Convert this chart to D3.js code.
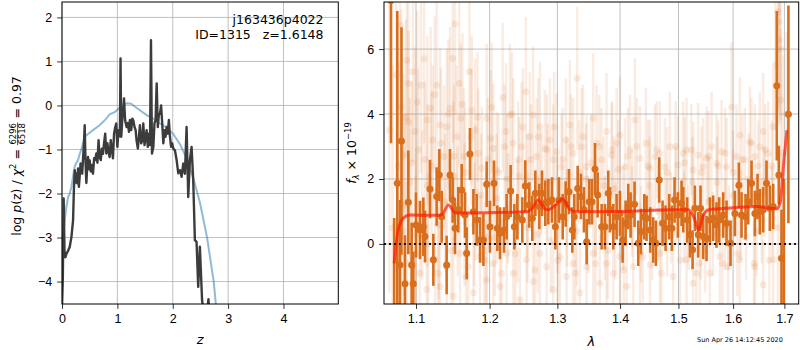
<!DOCTYPE html>
<html lang="en">
<head>
<meta charset="utf-8">
<title>p(z) and spectrum fit</title>
<script src="https://cdn.jsdelivr.net/npm/d3@7"></script>
<style>
  body { margin: 0; background: #fff; }
  svg { display: block; font-family: 'DejaVu Sans', sans-serif; }
  text { white-space: pre; }
  .tick text { font-size: 12.5px; fill: #000; }
  .tick line { stroke: #000; stroke-width: 0.8; }
  .grid line { stroke: #b0b0b0; stroke-width: 0.8; }
</style>
</head>
<body>
<script>
// ---- left panel: log p(z) ----
const pzZ = [0.000, 0.015, 0.030, 0.045, 0.06, 0.08, 0.11, 0.14, 0.17, 0.20, 0.215, 0.23, 0.245, 0.26, 0.275, 0.29,
  0.305, 0.32, 0.335, 0.35, 0.365, 0.38, 0.395, 0.41, 0.425, 0.44, 0.455, 0.47, 0.485, 0.50, 0.52, 0.54, 0.56, 0.58,
  0.60, 0.62, 0.64, 0.66, 0.68, 0.70, 0.72, 0.74, 0.76, 0.78, 0.80, 0.82, 0.84, 0.86, 0.88, 0.90, 0.92, 0.94, 0.96,
  0.98, 1.00, 1.02, 1.045, 1.057, 1.07, 1.09, 1.106, 1.12, 1.14, 1.166, 1.19, 1.21, 1.226, 1.25, 1.27, 1.29, 1.31,
  1.33, 1.347, 1.37, 1.39, 1.407, 1.43, 1.45, 1.468, 1.49, 1.51, 1.528, 1.55, 1.57, 1.589, 1.607, 1.625, 1.65, 1.67,
  1.69, 1.71, 1.73, 1.75, 1.77, 1.79, 1.81, 1.83, 1.85, 1.87, 1.89, 1.91, 1.93, 1.95, 1.97, 1.99, 2.01, 2.04, 2.07,
  2.10, 2.13, 2.16, 2.19, 2.22, 2.25, 2.28, 2.31, 2.34, 2.37, 2.40, 2.43, 2.46, 2.49, 2.53, 2.56, 2.62, 2.645, 2.66];
const pzLog = [-4.6, -3.9, -2.11, -3.3, -3.45, -3.37, -3.3, -3.21, -2.99, -2.61, -1.9, -1.47, -1.75, -1.55, -1.77, -1.43,
  -1.85, -1.6, -1.32, -1.5, -1.55, -1.2, -0.9, -0.45, -1.3, -1.76, -1.4, -1.17, -1.45, -1.25, -1.5, -1.35, -1.55, -1.2,
  -1.24, -1.09, -1.3, -0.79, -1.17, -1.24, -0.98, -1.1, -0.85, -0.64, -1.09, -0.86, -1.05, -1.17, -0.79, -1.0, -1.2, -0.64, -0.5,
  -0.41, -0.94, -0.56, -0.7, 1.07, -0.71, -0.3, -0.11, 0.16, -0.33, -0.49, -0.4, -0.6, -0.33, -0.56, -0.30, -0.35, -0.49,
  -0.56, -0.8, -0.98, -0.71, -0.45, -0.86, -0.8, -0.41, -0.9, -0.75, -0.56, -0.94, -0.64, -0.9, 1.48, -1.09, -0.94, -0.4,
  -0.33, 0.50, -0.49, -0.2, -0.18, 0.0, -0.41, -0.86, -0.56, -0.71, -0.49, -0.64, -0.33, -0.71, -0.94, -0.86, -0.98, -1.02, -1.24,
  -1.54, -1.47, -1.62, -1.32, -1.55, -0.49, -2.08, -1.24, -0.94, -1.7, -3.06, -3.1, -4.12, -3.21, -4.43, -4.7, -4.7, -4.4, -4.7];

const priorZ = [0.0, 0.02, 0.05, 0.08, 0.11, 0.14, 0.17, 0.20, 0.23, 0.26, 0.29, 0.32, 0.35, 0.38, 0.41, 0.47, 0.56, 0.68,
  0.80, 0.86, 0.95, 1.045, 1.166, 1.25, 1.29, 1.407, 1.528, 1.65, 1.77, 1.89, 2.01, 2.13, 2.25, 2.37, 2.49, 2.62, 2.74, 2.80];
const priorLog = [-3.6, -3.0, -2.6, -2.3, -2.08, -2.0, -1.85, -1.6, -1.39, -1.3, -1.24, -1.1, -1.0, -0.85, -0.71, -0.65, -0.56, -0.45,
  -0.3, -0.2, -0.15, -0.05, 0.05, 0.04, 0.0, -0.11, -0.22, -0.30, -0.41, -0.5, -0.65, -0.88, -1.2, -1.65, -2.2, -3.0, -4.0, -4.8];

const zTicks = [0, 1, 2, 3, 4];
const pTicks = [-4, -3, -2, -1, 0, 1, 2];

// ---- right panel: spectrum ----
// binned points
const binLam = [1.068, 1.072, 1.0760, 1.0794, 1.0813, 1.0858, 1.0901, 1.0944, 1.0965, 1.1000, 1.1052, 1.1096, 1.1118, 1.1184,
  1.1228, 1.1272, 1.1308, 1.1339, 1.1406, 1.1451, 1.1487, 1.1519, 1.1564, 1.1610, 1.1656, 1.1679, 1.1725, 1.1772, 1.1818,
  1.1865, 1.1912, 1.1959, 1.2005, 1.2062, 1.2110, 1.2148, 1.2206, 1.2244, 1.2302, 1.2356, 1.2400, 1.2473, 1.2517, 1.2576,
  1.2621, 1.2666, 1.2726, 1.2766, 1.2816, 1.2862, 1.2918, 1.2969, 1.3025, 1.3082, 1.3128, 1.3180, 1.3232, 1.3263, 1.3316,
  1.3368, 1.3415, 1.3458, 1.3500, 1.3543, 1.3591, 1.3634, 1.3698, 1.3752, 1.3806, 1.3833, 1.3888, 1.3943, 1.3998, 1.4042,
  1.4092, 1.4136, 1.4175, 1.4242, 1.4304, 1.4349, 1.4406, 1.4445, 1.4508, 1.4559, 1.4605, 1.4663, 1.4721, 1.4773, 1.4837,
  1.4884, 1.4931, 1.4990, 1.5055, 1.5085, 1.5156, 1.5204, 1.5252, 1.5294, 1.5354, 1.5396, 1.5445, 1.5506, 1.5567, 1.5628,
  1.5690, 1.5740, 1.5814, 1.5877, 1.5952, 1.6034, 1.6110, 1.6161, 1.6237, 1.6288, 1.6353, 1.6417, 1.6469, 1.6514, 1.6580,
  1.6645, 1.6711, 1.6777, 1.6848, 1.6889, 1.6942, 1.699, 1.7081];
const binFlux = [7.5, -2.5, 1.87, -0.65, 3.17, -1.23, 1.28, -0.65, -1.23, 0.58, 0.43, 0.53, 0.23, 1.69,
  -0.49, 1.46, 2.12, 0.84, -0.65, 2.12, 1.35, 0.48, 1.05, 1.66, 0.89, -0.29, 2.77, 0.99, 0.74,
  0.12, 0.12, 1.84, 0.53, 1.87, 0.48, 0.33, 0.43, 0.84, 1.63, 0.53, 0.84, 0.74, 1.78, 1.2,
  0.79, 1.56, 1.15, 1.56, 1.25, 1.30, 1.35, 0.53, 1.35, 0.84, 1.23, 1.61, 0.43, 0.84, 1.71,
  1.46, 1.05, 0.07, 1.30, 1.30, 2.31, 1.51, 0.53, 0.53, 1.56, 1.05, 0.53, 0.84, 0.94, 0.12,
  0.64, 1.15, 0.89, 1.22, 0.02, 0.38, 0.84, 0.79, 0.43, 0.12, 0.02, 1.97, 0.64, 0.48, 0.84,
  0.48, 1.35, 0.89, 1.25, 1.05, 0.74, 0.28, -0.18, 1.10, 0.28, 1.10, 0.23, 0.17, 0.74, 0.79,
  0.58, 0.74, 0.89, 0.64, 0.02, 0.94, 1.81, 0.89, 0.84, 1.30, 1.87, 0.94, 1.46, 0.99, 1.05,
  1.87, 1.10, 1.15, 4.87, 2.12, -0.44, -3.0, 3.99];
const binErr = [4.4, 3.3, 5.3, 2.0, 3.5, 1.5, 1.6, 1.3, 1.0, 1.0, 0.9, 0.9, 0.8, 0.9,
  0.8, 0.9, 0.8, 0.8, 0.9, 0.8, 0.7, 0.8, 0.7, 0.8, 0.7, 0.8, 0.8, 0.7, 0.8,
  0.7, 0.8, 0.7, 0.8, 0.7, 0.7, 0.8, 0.7, 0.7, 0.8, 0.7, 0.7, 0.7, 0.8, 0.7,
  0.7, 0.7, 0.7, 0.7, 0.7, 0.7, 0.7, 0.7, 0.7, 0.7, 0.7, 0.7, 0.7, 0.7, 0.7,
  0.7, 0.7, 0.7, 0.7, 0.7, 0.8, 0.7, 0.7, 0.7, 0.7, 0.7, 0.7, 0.7, 0.7, 0.7,
  0.7, 0.7, 0.7, 0.7, 0.7, 0.7, 0.7, 0.7, 0.7, 0.7, 0.7, 0.7, 0.7, 0.7, 0.7,
  0.7, 0.7, 0.7, 0.7, 0.7, 0.7, 0.7, 0.6, 0.7, 0.7, 0.7, 0.7, 0.7, 0.7, 0.7,
  0.7, 0.7, 0.7, 0.7, 0.7, 0.7, 0.7, 0.7, 0.7, 0.7, 0.7, 0.7, 0.7, 0.7, 0.7,
  0.7, 0.7, 0.7, 2.3, 0.9, 1.5, 5.0, 3.35];

// individual (unbinned) points
const rawLam = [1.0794, 1.081, 1.0837, 1.0881, 1.0902, 1.0905, 1.0945, 1.0987, 1.1017, 1.1065, 1.1118, 1.1148, 1.1193, 1.1219,
  1.1273, 1.1317, 1.1370, 1.1407, 1.1451, 1.1488, 1.1519, 1.1542, 1.1578, 1.1597, 1.1642, 1.1716, 1.1749, 1.1795, 1.1841,
  1.1889, 1.1959, 1.2015, 1.2052, 1.2100, 1.2187, 1.2234, 1.2292, 1.2340, 1.2413, 1.2463, 1.2526, 1.2585, 1.2634, 1.2685,
  1.2735, 1.2810, 1.2886, 1.2936, 1.2988, 1.3065, 1.3131, 1.3194, 1.3245, 1.3308, 1.3377, 1.3456, 1.3562, 1.3616, 1.3697,
  1.3778, 1.3860, 1.3943, 1.3998, 1.4081, 1.4164, 1.4248, 1.4332, 1.4434, 1.4502, 1.4588, 1.4674, 1.4761, 1.4848, 1.4995,
  1.5084, 1.5144, 1.5263, 1.5353, 1.5444, 1.5506, 1.5598, 1.5690, 1.5783, 1.5877, 1.5971, 1.6065, 1.6128, 1.6224, 1.6320,
  1.6417, 1.6514, 1.6579, 1.6677, 1.6776, 1.6876, 1.6896, 1.690, 1.6923, 1.7044,
  1.0881, 1.0945, 1.1052, 1.1140, 1.1251, 1.1317, 1.1407, 1.1496, 1.1588, 1.1670, 1.1772, 1.1865, 1.1959, 1.2052, 1.2148,
  1.2244, 1.2340, 1.2438, 1.2536, 1.2634, 1.2735, 1.2836, 1.2936, 1.3039, 1.3142, 1.3245, 1.3350, 1.3456, 1.3562, 1.3669,
  1.3778, 1.3888, 1.3998, 1.4109, 1.4220, 1.4332, 1.4502, 1.4674, 1.4906, 1.5144, 1.5263, 1.5384, 1.5567, 1.5752, 1.5907,
  1.6128, 1.6417, 1.6579, 1.6776,
  1.085, 1.10, 1.115, 1.13, 1.15, 1.165, 1.18, 1.195, 1.21, 1.225, 1.24, 1.255, 1.27, 1.285, 1.30, 1.315, 1.33, 1.345,
  1.36, 1.375, 1.39, 1.405, 1.42, 1.435, 1.45, 1.465, 1.48, 1.495, 1.51, 1.525, 1.54, 1.555, 1.57, 1.585, 1.60, 1.615,
  1.63, 1.645, 1.66, 1.675,
  1.066, 1.070, 1.0745, 1.0775, 1.0830, 1.0870, 1.0920, 1.0960, 1.0995, 1.1030, 1.1080, 1.1105, 1.1160, 1.1205, 1.1245,
  1.1290, 1.1330, 1.1385, 1.1430, 1.1470, 1.1505, 1.1555, 1.1620, 1.1660, 1.1700, 1.1740, 1.1785, 1.1830, 1.1880, 1.1925,
  1.1975, 1.2030, 1.2075, 1.2125, 1.2170, 1.2215, 1.2265, 1.2320, 1.2370, 1.2425, 1.2480, 1.2550, 1.2600, 1.2660, 1.2710,
  1.2760, 1.2840, 1.2900, 1.2950, 1.3010, 1.3080, 1.3150, 1.3210, 1.3280, 1.3340, 1.3400, 1.3480, 1.3530, 1.3600, 1.3660,
  1.3730, 1.3800, 1.3870, 1.3920, 1.3970, 1.4060, 1.4130, 1.4200, 1.4280, 1.4380, 1.4470, 1.4540, 1.4620, 1.4700, 1.4800,
  1.4870, 1.4950, 1.5030, 1.5110, 1.5180, 1.5230, 1.5320, 1.5410, 1.5480, 1.5540, 1.5620, 1.5720, 1.5800, 1.5850, 1.5920,
  1.6000, 1.6080, 1.6170, 1.6250, 1.6350, 1.6400, 1.6480, 1.6550, 1.6620, 1.6700, 1.6750, 1.6820, 1.6870, 1.6930, 1.6960];
const rawFlux = [6.74, 4.22, 2.74, 5.66, 4.94, 3.76, 2.5, 3.46, 4.37, 4.89, 2.6, 3.82, 4.18, 3.2,
  4.89, 3.66, 2.69, 3.61, 4.18, 5.71, 6.77, 3.3, 4.94, 3.87, 2.69, 5.3, 4.12, 3.5, 2.79,
  2.33, 3.87, 3.25, 2.94, 2.28, 4.51, 3.46, 3.97, 3.1, 2.59, 2.99, 4.69, 3.3, 3.97, 2.69,
  3.61, 2.94, 3.2, 2.59, 2.84, 2.38, 3.2, 3.66, 2.79, 5.1, 2.99, 2.38, 3.87, 3.1, 2.59,
  3.46, 2.74, 3.1, 3.35, 2.38, 2.89, 3.82, 2.64, 3.1, 2.33, 2.69, 2.79, 2.38, 2.99, 2.43,
  2.79, 2.89, 2.28, 2.74, 2.38, 2.64, 2.99, 2.48, 2.84, 2.38, 4.22, 2.69, 3.35, 2.59, 3.15,
  2.69, 2.99, 3.46, 2.79, 3.61, 7.15, 6.84, 6.28, 4.43, 4.02,
  -0.6, -1.21, -0.9, -1.4, -0.49, -1.31, -0.7, -1.6, -0.29, -1.0, -1.5, -0.39, -1.11, -0.6, -1.31,
  -0.29, -0.9, -1.72, -0.49, -1.16, -0.29, -0.7, -1.4, -0.39, -1.0, -0.6, -1.5, -0.7, -0.29, -1.21,
  -0.6, -0.9, -0.39, -1.31, -0.7, -0.29, -0.65, -0.29, -1.0, -0.49, -1.21, -0.6, -0.9, -0.39, -0.7,
  -0.49, -0.7, -1.26, -0.49,
  1.2, 0.3, 1.8, 0.6, 2.1, 0.9, 1.6, 0.2, 1.4, 2.0, 0.7, 1.5, 0.3, 1.9, 0.9, 1.6, 0.4, 2.0,
  1.2, 0.5, 1.7, 0.8, 1.4, 0.3, 1.8, 1.0, 0.5, 1.5, 0.8, 1.9, 0.3, 1.3, 1.9, 0.6, 1.5, 0.9,
  2.0, 0.4, 1.6, 1.0,
  3.5, 0.5, 5.2, 2.4, 0.4, 3.9, 1.9, 5.3, -0.3, 2.9, 1.2, 5.7, 0.0, 2.4, 4.6,
  -0.9, 3.1, 1.3, 4.0, -0.2, 2.7, 1.0, 4.3, 2.2, -0.7, 3.3, 0.6, 3.9, 1.5, -0.5,
  2.6, 4.2, 0.2, 2.2, -0.9, 3.0, 1.1, 4.0, -0.3, 2.1, 3.6, 0.5, 2.6, -0.8, 3.3,
  1.9, 2.9, 0.1, 3.6, -0.5, 2.6, 0.8, 3.0, -0.9, 2.2, 3.3, 0.6, 2.5, -0.6, 3.0,
  1.8, -0.2, 2.9, 0.4, 2.3, -0.8, 2.7, 1.0, 3.0, -0.4, 2.4, 0.3, 2.9, -0.9, 2.2,
  0.8, 3.0, -0.5, 2.5, 0.5, 2.9, -0.9, 2.2, -0.2, 2.7, 0.3, 2.4, -0.6, 2.8, 0.5,
  2.2, -0.3, 2.6, 0.2, 3.1, -0.6, 2.4, 0.7, 2.9, -0.5, 2.4, 5.5, 0.5, 6.0, 2.8];
const rawErr = [3.5, 3.0, 2.5, 3.0, 3.0, 2.8, 2.5, 2.6, 2.8, 2.7, 2.4, 2.6, 2.5, 2.3,
  2.6, 2.4, 2.2, 2.4, 2.5, 2.6, 2.8, 2.2, 2.5, 2.3, 2.1, 2.5, 2.3, 2.2, 2.0,
  1.9, 2.3, 2.1, 2.0, 1.8, 2.3, 2.1, 2.2, 2.0, 1.8, 2.0, 2.3, 2.0, 2.1, 1.8,
  2.0, 1.8, 1.9, 1.7, 1.8, 1.6, 1.9, 2.0, 1.7, 2.2, 1.8, 1.6, 2.0, 1.8, 1.6,
  1.8, 1.6, 1.7, 1.8, 1.5, 1.7, 1.9, 1.6, 1.7, 1.5, 1.6, 1.6, 1.5, 1.7, 1.5,
  1.6, 1.6, 1.5, 1.6, 1.5, 1.6, 1.7, 1.5, 1.6, 1.5, 2.0, 1.6, 1.8, 1.6, 1.7,
  1.6, 1.7, 1.8, 1.6, 1.8, 3.0, 2.8, 2.6, 2.2, 2.5,
  2.5, 2.2, 2.2, 2.0, 2.2, 2.0, 2.0, 1.8, 2.0, 1.8, 1.8, 1.9, 1.8, 1.8, 1.7,
  1.8, 1.7, 1.6, 1.7, 1.6, 1.7, 1.6, 1.5, 1.7, 1.6, 1.6, 1.5, 1.6, 1.6, 1.5,
  1.6, 1.5, 1.6, 1.5, 1.5, 1.6, 1.5, 1.5, 1.4, 1.5, 1.4, 1.5, 1.4, 1.5, 1.4,
  1.5, 1.4, 1.4, 1.5,
  2.8, 2.5, 2.5, 2.3, 2.3, 2.2, 2.1, 2.0, 2.0, 2.0, 1.9, 1.9, 1.8, 1.8, 1.8, 1.7, 1.7, 1.7,
  1.6, 1.6, 1.6, 1.6, 1.5, 1.5, 1.5, 1.5, 1.5, 1.5, 1.4, 1.4, 1.4, 1.4, 1.4, 1.4, 1.4, 1.4,
  1.4, 1.4, 1.4, 1.4,
  5.0, 5.0, 3.5, 3.2, 2.8, 3.0, 2.6, 2.8, 2.4, 2.5, 2.3, 2.6, 2.2, 2.3, 2.4,
  2.1, 2.3, 2.1, 2.3, 2.0, 2.2, 2.0, 2.2, 2.0, 1.9, 2.1, 1.9, 2.0, 1.9, 1.8,
  1.9, 2.0, 1.8, 1.8, 1.7, 1.9, 1.7, 1.9, 1.7, 1.8, 1.8, 1.7, 1.7, 1.6, 1.8,
  1.6, 1.7, 1.6, 1.7, 1.6, 1.6, 1.5, 1.6, 1.5, 1.6, 1.6, 1.5, 1.5, 1.5, 1.6,
  1.5, 1.5, 1.5, 1.5, 1.5, 1.4, 1.5, 1.4, 1.5, 1.4, 1.4, 1.4, 1.5, 1.4, 1.4,
  1.4, 1.4, 1.4, 1.4, 1.3, 1.4, 1.3, 1.4, 1.3, 1.4, 1.3, 1.4, 1.3, 1.4, 1.3,
  1.3, 1.3, 1.4, 1.3, 1.4, 1.3, 1.4, 1.3, 1.4, 1.3, 1.4, 2.0, 2.5, 2.2, 3.0];

// best-fit template
const modelLam = [1.072, 1.077, 1.084, 1.092, 1.13, 1.135, 1.143, 1.152, 1.16, 1.254, 1.262, 1.271, 1.28, 1.286, 1.297,
  1.308, 1.318, 1.328, 1.40, 1.492, 1.518, 1.528, 1.536, 1.545, 1.555, 1.576, 1.646, 1.685, 1.692, 1.698, 1.705];
const modelFlux = [-0.6, 0.43, 0.8, 0.89, 0.88, 0.92, 1.2, 0.96, 0.95, 0.99, 1.1, 1.35, 1.1, 1.05, 1.2,
  1.38, 1.1, 0.99, 1.0, 1.05, 1.05, 0.8, 0.43, 0.9, 1.05, 1.08, 1.15, 1.08, 1.3, 2.4, 3.5];

const lamTicks = [1.1, 1.2, 1.3, 1.4, 1.5, 1.6, 1.7];
const fluxTicks = [0, 2, 4, 6];

const W = 800, H = 350;
const svg = d3.select("body").append("svg").attr("width", W).attr("height", H);

const orange = "#d96e1c";

function grid(box, xs, ys, xticks, yticks) {
  const g = svg.append("g").attr("class", "grid");
  g.selectAll("line.gx").data(xticks).join("line")
    .attr("class", "gx")
    .attr("x1", d => xs(d)).attr("x2", d => xs(d))
    .attr("y1", box.y0).attr("y2", box.y1);
  g.selectAll("line.gy").data(yticks).join("line")
    .attr("class", "gy")
    .attr("x1", box.x0).attr("x2", box.x1)
    .attr("y1", d => ys(d)).attr("y2", d => ys(d));
}

function drawAxes(box, xs, ys, xticks, yticks, xfmt, yfmt) {
  const ax = svg.append("g").attr("transform", `translate(0,${box.y1})`)
    .call(d3.axisBottom(xs).tickValues(xticks).tickFormat(xfmt).tickSize(4.9).tickPadding(4.9).tickSizeOuter(0));
  ax.select(".domain").remove();
  const ay = svg.append("g").attr("transform", `translate(${box.x0},0)`)
    .call(d3.axisLeft(ys).tickValues(yticks).tickFormat(yfmt).tickSize(4.9).tickPadding(4.9).tickSizeOuter(0));
  ay.select(".domain").remove();
  svg.selectAll(".tick text").attr("font-family", null);
  svg.append("rect").attr("x", box.x0).attr("y", box.y0)
    .attr("width", box.x1 - box.x0).attr("height", box.y1 - box.y0)
    .attr("fill", "none").attr("stroke", "#000").attr("stroke-width", 1);
}

function clip(id, box) {
  svg.append("clipPath").attr("id", id).append("rect")
    .attr("x", box.x0).attr("y", box.y0).attr("width", box.x1 - box.x0).attr("height", box.y1 - box.y0);
  return svg.append("g").attr("clip-path", `url(#${id})`);
}

const fmtInt = d3.format("d");
const minusFmt = d => (d < 0 ? "\u2212" : "") + Math.abs(d);

// ---------- left panel ----------
const L = { x0: 62, x1: 338.3, y0: 2, y1: 304 };
const zx = d3.scaleLinear().domain([0, 4.99]).range([L.x0, L.x1]);
const zy = d3.scaleLinear().domain([-4.51, 2.35]).range([L.y1, L.y0]);

grid(L, zx, zy, zTicks, pTicks);
const gl = clip("clipL", L);
const line = d3.line().x(d => zx(d[0])).y(d => zy(d[1]));
gl.append("path").datum(d3.zip(priorZ, priorLog)).attr("d", line)
  .attr("fill", "none").attr("stroke", "#1f77b4").attr("stroke-opacity", 0.5).attr("stroke-width", 2);
gl.append("path").datum(d3.zip(pzZ, pzLog)).attr("d", line)
  .attr("fill", "none").attr("stroke", "#3c3c3c").attr("stroke-width", 2.4).attr("stroke-linejoin", "round");
drawAxes(L, zx, zy, zTicks, pTicks, fmtInt, minusFmt);

svg.append("text").attr("x", 323.5).attr("y", 24).attr("text-anchor", "end")
  .attr("font-size", 12.5).text("j163436p4022");
svg.append("text").attr("x", 323.5).attr("y", 38.5).attr("text-anchor", "end")
  .attr("font-size", 12.5).text("ID=1315   z=1.6148");

svg.append("text").attr("x", (L.x0 + L.x1) / 2).attr("y", 344)
  .attr("text-anchor", "middle").attr("font-size", 13).attr("font-style", "italic").text("z");

// y label with fraction
{
  const g0 = svg.append("g").attr("transform", "translate(21,156) rotate(-90)");
  const g = g0.append("g");
  const t1 = g.append("text").attr("font-size", 12.5);
  t1.append("tspan").text("log ");
  t1.append("tspan").attr("font-style", "italic").text("p");
  t1.append("tspan").text("(z) / ");
  t1.append("tspan").attr("font-style", "italic").text("\u03c7");
  t1.append("tspan").attr("font-size", 8.5).attr("dy", -5).text("2");
  t1.append("tspan").attr("dy", 5).text(" = ");
  const l1 = t1.node().getComputedTextLength();
  const num = g.append("text").attr("font-size", 8.5).attr("text-anchor", "middle").attr("y", -4.8).text("6296");
  const den = g.append("text").attr("font-size", 8.5).attr("text-anchor", "middle").attr("y", 4.0).text("6518");
  const fw = Math.max(num.node().getComputedTextLength(), den.node().getComputedTextLength()) + 1;
  num.attr("x", l1 + fw / 2);
  den.attr("x", l1 + fw / 2);
  g.append("line").attr("x1", l1).attr("x2", l1 + fw).attr("y1", -3.4).attr("y2", -3.4)
    .attr("stroke", "#000").attr("stroke-width", 0.7);
  const t3 = g.append("text").attr("font-size", 12.5).attr("x", l1 + fw).text(" = 0.97");
  const total = l1 + fw + t3.node().getComputedTextLength();
  g.attr("transform", `translate(${-total / 2},0)`);
}

// ---------- right panel ----------
const R = { x0: 384, x1: 798.7, y0: 2, y1: 304 };
const lx = d3.scaleLog().domain([1.0592, 1.729]).range([R.x0, R.x1]);
const fy = d3.scaleLinear().domain([-1.85, 7.45]).range([R.y1, R.y0]);

grid(R, lx, fy, lamTicks, fluxTicks);
const gr = clip("clipR", R);

const raw = d3.zip(rawLam, rawFlux, rawErr);
const rawG = gr.append("g");
rawG.selectAll("line").data(raw).join("line")
  .attr("x1", d => lx(d[0])).attr("x2", d => lx(d[0]))
  .attr("y1", d => fy(d[1] - d[2])).attr("y2", d => fy(d[1] + d[2]))
  .attr("stroke", orange).attr("stroke-opacity", 0.13).attr("stroke-width", 2.5);
rawG.selectAll("circle").data(raw).join("circle")
  .attr("cx", d => lx(d[0])).attr("cy", d => fy(d[1])).attr("r", 3.5)
  .attr("fill", orange).attr("fill-opacity", 0.13);

const bins = d3.zip(binLam, binFlux, binErr);
gr.append("g").selectAll("line").data(bins).join("line")
  .attr("x1", d => lx(d[0])).attr("x2", d => lx(d[0]))
  .attr("y1", d => fy(d[1] - d[2])).attr("y2", d => fy(d[1] + d[2]))
  .attr("stroke", orange).attr("stroke-width", 2.6);
gr.append("g").selectAll("circle").data(bins).join("circle")
  .attr("cx", d => lx(d[0])).attr("cy", d => fy(d[1])).attr("r", 3.5)
  .attr("fill", orange);

const mline = d3.line().curve(d3.curveMonotoneX).x(d => lx(d[0])).y(d => fy(d[1]));
gr.append("path").datum(d3.zip(modelLam, modelFlux)).attr("d", mline)
  .attr("fill", "none").attr("stroke", "#ff1a00").attr("stroke-opacity", 0.7).attr("stroke-width", 3);

gr.append("path").datum([[lx.domain()[0], 0], [lx.domain()[1], 0]])
  .attr("d", d3.line().x(d => lx(d[0])).y(d => fy(d[1])))
  .attr("stroke", "#111").attr("stroke-width", 2).attr("stroke-dasharray", "2,3");

drawAxes(R, lx, fy, lamTicks, fluxTicks, d3.format(".1f"), fmtInt);

svg.append("text").attr("x", (R.x0 + R.x1) / 2).attr("y", 346)
  .attr("text-anchor", "middle").attr("font-size", 13).attr("font-style", "italic").text("\u03bb");

{
  const t = svg.append("text").attr("transform", "translate(356,153) rotate(-90)")
    .attr("text-anchor", "middle").attr("font-size", 12.5);
  t.append("tspan").attr("font-style", "italic").text("f");
  t.append("tspan").attr("font-style", "italic").attr("font-size", 8.5).attr("dy", 2.5).text("\u03bb");
  t.append("tspan").attr("dy", -2.5).text(" \u00d7 10");
  t.append("tspan").attr("font-size", 8.5).attr("dy", -5).text("\u221219");
}

svg.append("text").attr("x", 697).attr("y", 342).attr("font-size", 6.5).text("Sun Apr 26 14:12:45 2020");
</script>
</body>
</html>
